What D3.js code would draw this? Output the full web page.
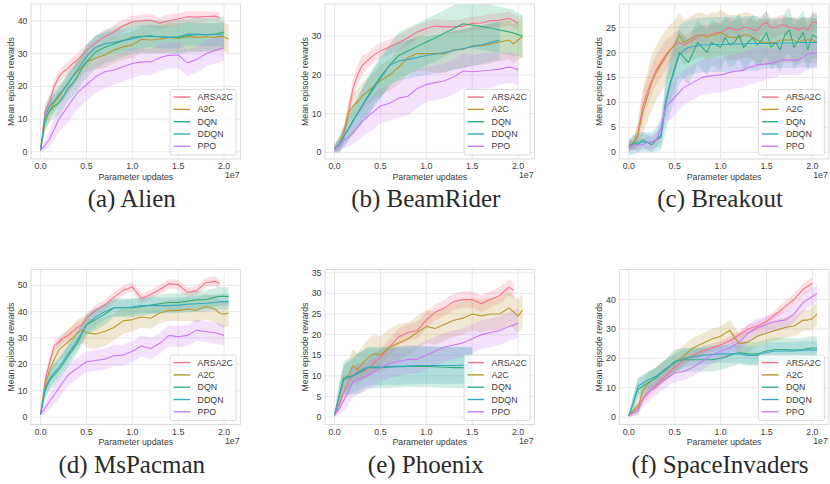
<!DOCTYPE html>
<html>
<head>
<meta charset="utf-8">
<script src="https://d3js.org/d3.v7.min.js"></script>
<style>
  body { margin: 0; background: #fff; }
  svg { display: block; font-family: "Liberation Sans", Arial, sans-serif; }
  .tick-label { font-size: 8.8px; fill: #3c3c3c; }
  .axis-label { font-size: 8.8px; fill: #3c3c3c; }
  .legend-text { font-size: 8.8px; fill: #3c3c3c; }
  .caption { font-family: "Liberation Serif", "Times New Roman", serif; font-size: 25px; fill: #2a2a2a; }
</style>
</head>
<body>
<svg id="fig" width="830" height="484"></svg>
<script>
const methods = ["ARSA2C", "A2C", "DQN", "DDQN", "PPO"];
const colors = ["#f77189", "#bb9832", "#33b07a", "#38a9c5", "#cc7af4"];
const xTicks = [0, 0.5, 1.0, 1.5, 2.0];

// x positions (in 1e7 parameter updates)
const gridX = [0, 0.05, 0.1, 0.15, 0.2, 0.25, 0.3, 0.35, 0.4, 0.45, 0.5, 0.6, 0.7, 0.8, 0.9, 1.0,
  1.1, 1.2, 1.3, 1.4, 1.5, 1.6, 1.7, 1.8, 1.9, 1.95, 2.0, 2.05];
const gridFine = [0, 0.05, 0.1, 0.15, 0.2, 0.25, 0.3, 0.35, 0.4, 0.45, 0.5, 0.55, 0.6, 0.65, 0.7, 0.75,
  0.8, 0.85, 0.9, 0.95, 1.0, 1.05, 1.1, 1.15, 1.2, 1.25, 1.3, 1.35, 1.4, 1.45, 1.5, 1.55, 1.6, 1.65,
  1.7, 1.75, 1.8, 1.85, 1.9, 1.95, 2.0, 2.05];

// (a) Alien
const alienTicks = [0, 10, 20, 30, 40];
const alienMean = [
  [0.5, 12.5, 15.5, 20, 23, 24.5, 25.5, 27, 28, 29.5, 31, 33.4, 35.2, 36.7, 38.5, 39.8, 40.1, 40.2, 39.3, 40.1, 40.6, 41.3, 41.2, 41.4, 41.5, 41.1, null, null],
  [0.5, 9.2, 12.7, 15, 16.8, 19, 21, 23, 24.5, 26, 27.5, 28.6, 29.6, 31.1, 32.1, 32.7, 34.4, 34.2, 34.4, 35, 34.7, 35.2, 35, 35.2, 35, 35.3, 35.2, 34.4],
  [0.5, 10, 12.5, 14, 15, 17, 19.5, 21, 23, 25.5, 27.5, 30.5, 32, 33, 34, 35, 35.3, 35.3, 35.2, 35.1, 35, 35.5, 35.8, 35.8, 36, 36.3, 36.6, null],
  [0.5, 11, 14, 15.5, 17.5, 19, 21, 23, 25, 27, 29, 32, 33, 33.5, 34, 34.5, 35.2, 35.5, 35.2, 35, 35.2, 36, 36, 35.8, 35.8, 35.8, 35.8, null],
  [0.5, 2, 4, 7, 10, 12, 14, 16, 18, 19.3, 20.5, 23, 24.5, 25, 26, 27, 27.5, 27.5, 28.8, 29.5, 29.6, 27.2, 28.2, 30, 31, 31.4, 31.8, null]
];
const alienBand = [
  [0.5, 2, 2, 2, 2, 2, 2, 2, 2, 2, 2, 2, 2, 2, 2, 1.8, 1.8, 2, 1.8, 2, 1.8, 1.8, 1.8, 1.5, 1.5, 1.5, null, null],
  [0.5, 3, 3, 3, 3, 3, 3, 3, 3, 3, 3, 3.5, 4, 4, 4, 4, 4, 4.2, 4.2, 4.5, 4.5, 4.5, 4.5, 4.5, 4.5, 4.5, 4.5, 4.5],
  [0.5, 3, 3.5, 3.5, 4, 4, 4, 4, 4.5, 4.5, 5, 5, 5, 5, 5, 5, 5, 5, 5, 5, 5.2, 5.2, 5.2, 5.2, 5, 5, 4.5, null],
  [0.5, 3, 3, 3, 3, 3, 3, 3, 3, 3, 3.5, 3.5, 3.5, 3.5, 3.5, 3.5, 3.5, 3.5, 3.5, 3.5, 3.5, 3.5, 3.5, 3.5, 3.5, 3.5, 3.5, null],
  [0.5, 1.5, 2.5, 3.5, 4, 4.5, 5, 5, 5, 5, 5, 5, 5, 4.5, 4.5, 4.5, 4, 4, 4, 4, 4, 4, 4, 4, 4, 4, 4, null]
];

// (b) BeamRider
const beamTicks = [0, 10, 20, 30];
const beamMean = [
  [1, 2, 4.5, 10, 16.4, 19.9, 22.5, 23.5, 24.6, 25.5, 26.2, 27.2, 28.3, 29.6, 31.1, 32, 32.6, 32.4, 32.4, 32.6, 33.3, 33.4, 34, 34.1, 34.6, 34, 33.3, null],
  [1, 2, 5, 10, 12, 13, 14.5, 15.5, 16.5, 17.5, 18.5, 20, 22, 24.5, 25.5, 25.5, 25.5, 25.5, 26.5, 26.5, 27.5, 27.5, 28, 28.5, 29, 28, 29, 30],
  [1, 2, 4, 6, 8.3, 10, 12, 14, 16, 17.8, 19.5, 22.5, 25, 26.2, 27.3, 28.5, 29.6, 30.8, 32, 33.2, 32.9, 32.5, 32.1, 31.6, 31.1, 30.8, 30.4, 30],
  [1, 2, 4, 6, 8, 10, 12, 13.8, 15.5, 17.3, 19, 22.5, 23.6, 24, 24.5, 25, 25.4, 25.8, 26.3, 26.8, 27.3, 27.8, 28.4, 29, null, null, null, null],
  [0.5, 1.8, 3, 4, 5, 6.5, 8, 9, 10, 11, 12, 12.7, 14, 14.5, 16.5, 17.5, 18, 18.5, 19.5, 21, 20.8, 21, 21.2, 21.5, 22, 21.8, 21.3, null]
];
const beamBand = [
  [0.8, 1.5, 2, 2.5, 2.5, 2.5, 2.5, 2, 2, 2, 2, 2, 2, 2, 1.8, 1.8, 1.8, 1.8, 1.8, 1.8, 1.8, 1.8, 1.8, 1.8, 1.8, 1.8, 1.8, null],
  [0.8, 1.5, 2, 3, 3, 3.5, 3.5, 3.5, 3.5, 3.5, 4, 4, 4.5, 4.5, 4.5, 4.5, 5, 5, 5, 5, 5, 5, 5, 5, 5, 5, 5, 5.5],
  [1, 2, 2.5, 3, 3.5, 4, 4.5, 5, 5, 5, 5.5, 5.5, 6, 6, 6, 6, 6, 6, 6, 6, 6, 6, 6, 6, 6, 6, 5.5, 5.5],
  [1, 2, 2.5, 3, 3.5, 4, 4.5, 4.5, 5, 5, 5, 5, 5, 5, 5, 5, 5, 5, 5, 5, 5, 5, 5, 5, null, null, null, null],
  [0.5, 1.5, 2, 2.5, 3, 3.5, 4, 4, 4.5, 4.5, 4.5, 4.5, 5, 5, 5, 4.5, 4.5, 4.5, 4.5, 4.5, 4.5, 4.5, 4.5, 4, 4, 4, 4, null]
];

// (c) Breakout (finer steps)
const breakoutTicks = [0, 5, 10, 15, 20, 25];
const breakoutMean = [
  [1.5, 1.5, 4, 9, 12, 14.5, 16.5, 18, 19.5, 20.5, 21.5, 22, 21.5, 22, 22.5, 23, 23.5, 23.5, 23.5, 24, 24, 24.5, 25, 24.5, 24.5, 25, 25, 24.5, 24.5, 25.5, 26, 25, 25, 25.5, 25.5, 25, 25, 24.5, 25, 24.5, 26, 26],
  [1.5, 1.5, 3.5, 8, 11, 14, 16, 17.5, 19, 20.5, 21.5, 23.5, 22, 22.5, 23, 23.5, 23.5, 23, 23.5, 23.5, 24, 23.5, 23, 23, 23, 23.5, 23.5, 23, 22.5, 22, 22, 22, 22, 22.5, 22.5, 22.5, 22.5, 22, 22.5, 22.5, 22.5, 22],
  [1, 2, 1.5, 2.5, 2, 1.5, 2.5, 3, 10, 14, 17, 20, 19, 18, 20, 22, 21, 20, 22, 21.5, 21, 23, 21.5, 22, 23.5, 21, 22, 23, 21.5, 22.5, 24, 21, 22, 20.5, 23.5, 24.5, 21, 22.5, 24, 20.5, 23.5, 23],
  [1, 1.5, 2, 2, 2, 2, 2.5, 3.5, 9.5, 13.5, 16.5, 19.5, 20.5, 21, 21.2, 21.4, 21.5, 21.5, 21.6, 21.6, 21.6, 21.6, 21.7, 21.7, 21.7, 21.7, 21.8, 21.8, 21.8, 21.8, 21.8, 21.8, 21.8, 21.9, 21.9, 21.9, 21.9, 22, 22, 22, 22, 22],
  [1, 1.5, 1.5, 1.5, 2, 2, 2.5, 5, 9, 10, 11, 12, 13, 13.5, 14, 14.5, 15, 15.2, 15.3, 15.4, 15.5, 15.7, 16, 16.2, 16.3, 16.5, 17, 17.2, 17.5, 17.6, 17.7, 17.8, 18, 18.5, 18.5, 18.5, 18.4, 18.5, 19, 19.7, 19.8, 19.8]
];
const breakoutBand = [
  [1, 1, 2, 3, 3, 3, 3, 3, 3, 2.5, 2.5, 2.5, 2, 2, 2, 2, 2, 2, 2, 2, 2, 2, 2, 2, 2, 2, 2, 2, 2, 2, 2, 2, 2, 2, 2, 2, 2, 2, 2, 2, 2, 2],
  [1, 1, 2.5, 4.5, 5, 5.5, 5.5, 5.5, 5.5, 5, 5, 4.5, 4.5, 4.5, 4.5, 4.5, 4.5, 4.5, 4.5, 4.5, 4.5, 4.5, 4.5, 4.5, 4.5, 4.5, 4.5, 4.5, 4.5, 4.5, 4.5, 4.5, 4.5, 4.5, 4.5, 4.5, 4.5, 4.5, 4.5, 4.5, 4.5, 4.5],
  [1, 1.5, 1.5, 1.5, 1.5, 1.5, 1.5, 2, 3, 4, 4.5, 4.5, 4.5, 4.5, 4.5, 4.5, 4.5, 4.5, 4.5, 4.5, 4.5, 4.5, 4.5, 4.5, 4.5, 4.5, 4.5, 4.5, 4.5, 4.5, 4.5, 4.5, 4.5, 4.5, 4.5, 4.5, 4.5, 4.5, 4.5, 4.5, 4.5, 4.5],
  [1.5, 2, 2, 2, 2, 2, 2.5, 3, 5.5, 6, 6, 6, 5.5, 5.5, 5.5, 5.5, 5.5, 5.5, 5.5, 5.5, 5.5, 5.5, 5.5, 5.5, 5.5, 5.5, 5.5, 5.5, 5.5, 5, 5, 5, 5, 5, 5, 5, 5, 5, 5, 5, 5, 5],
  [1, 1, 1, 1, 1.5, 1.5, 1.5, 2, 3, 3.5, 3.5, 3.5, 3.5, 3.5, 3.5, 3.5, 3.5, 3.5, 3.5, 3.5, 3.5, 3.5, 3.5, 3.5, 3.5, 3.5, 3.5, 3.5, 3.5, 3.5, 3, 3, 3, 3, 3, 3, 3, 3, 3, 3, 3, 3]
];

// (d) MsPacman
const pacmanTicks = [0, 10, 20, 30, 40, 50];
const pacmanMean = [
  [1, 14, 21, 27, 28.5, 30, 31, 32.5, 34, 35, 37.5, 40.5, 42.5, 45.5, 48.1, 49.4, 45, 46.5, 48.4, 50.6, 50.3, 47.3, 48, 51, 51.5, 50.6, null, null],
  [1, 12, 18, 22, 25.5, 27, 28.5, 30, 32, 33, 32, 31.5, 32.5, 34, 36.5, 37, 38, 37.5, 39.5, 40.5, 40.5, 41, 40.5, 42, 41, 39.5, 39, 39.5],
  [1, 10, 14, 16, 18, 20.5, 23, 25.5, 28, 31.5, 35, 37, 39, 41.5, 41.5, 41.5, 42, 42.5, 43, 43.5, 43.5, 44, 44.5, 44.5, 45.5, 45.8, 45.8, 45.8],
  [1, 11, 14.5, 17, 19, 21.5, 24, 26.5, 29, 32, 35, 38, 40, 41.5, 41.5, 41.8, 42.3, 42.3, 42.3, 42.3, 42.5, 42.8, 43, 43.2, 43.5, 43.7, 43.8, 43.8],
  [1, 3.5, 6, 8.5, 11, 13.5, 16, 17.3, 18.5, 19.8, 21, 21.5, 22, 23.3, 23.5, 25, 27, 26, 28, 31, 30.5, 31, 33, 32.5, 32, 31.5, 31, null]
];
const pacmanBand = [
  [0.5, 2, 2, 2, 2, 2, 2, 2, 2, 2, 2, 2, 2, 2, 1.8, 1.8, 1.8, 1.8, 1.8, 1.8, 1.8, 1.8, 1.8, 1.8, 1.8, 1.8, null, null],
  [0.5, 2.5, 3, 3.5, 4, 4.5, 5, 5, 5, 5, 5.5, 5.5, 5.5, 5, 5, 4.5, 4, 4, 4, 4, 4, 4.5, 4.5, 5, 5, 5, 5, 5],
  [0.5, 3, 4, 4, 4, 4, 4, 4, 4, 4, 4, 4, 4, 3.5, 3.5, 3.5, 3.5, 3.5, 3.5, 3.5, 3.5, 3.5, 3.5, 3.5, 3.5, 3.5, 3.5, 3.5],
  [0.5, 3, 3.5, 3.5, 3.5, 3.5, 3.5, 3.5, 3.5, 3.5, 3.5, 3.5, 3, 3, 3, 3, 3, 3, 3, 3, 3, 3, 3, 3, 3, 3, 3, 3],
  [0.5, 2, 3, 3.5, 4, 4, 4, 4, 4, 4, 4, 4, 4, 4, 4, 4, 4, 4, 4, 4, 4, 4, 4, 4, 4, 4, 4, null]
];

// (e) Phoenix
const phoenixTicks = [0, 5, 10, 15, 20, 25, 30, 35];
const phoenixMean = [
  [0.5, 3, 6, 8.5, 10, 11, 11, 11.5, 12.5, 13.5, 14.5, 17, 19.5, 20.5, 21, 23.5, 25.5, 26.5, 28, 28.5, 28.5, 27.5, 28.5, 29.5, 31.5, 30.8, null, null],
  [0.5, 5, 9.5, 10, 12.5, 11.5, 13, 14, 15, 15.5, 15, 17, 18, 19, 20.5, 22, 21.5, 22.5, 23.5, 24, 25, 24.5, 25, 25, 26.5, 25.5, 24.5, 26],
  [0.5, 5, 9.5, 9.8, 10, 10.5, 11, 12, 12, 12, 12, 12.1, 12.2, 12.3, 12.3, 12.3, 12.2, 12.1, 12, 12, 11.9, null, null, null, null, null, null, null],
  [0.5, 5, 9, 9.5, 10, 10.8, 11.5, 12, 12.2, 12.2, 12.2, 12.3, 12.3, 12.4, 12.5, 12.5, 12.5, 12.5, 12.5, 12.6, 12.6, null, null, null, null, null, null, null],
  [0.5, 2, 4, 6, 8.5, 9, 9.5, 10, 10.5, 11.2, 12, 13, 13.5, 14, 14, 15, 16, 17, 17.5, 18, 19, 20, 20.5, 21, 22, 22.3, 22.8, null]
];
const phoenixBand = [
  [0.5, 1.5, 2, 2, 2, 2, 2, 2, 2, 2, 2, 2, 2, 2, 2, 2, 2, 2, 2, 2, 2, 2, 2, 2, 2, 2, null, null],
  [0.5, 2, 3, 3.5, 4, 4, 4, 4.5, 4.5, 4.5, 4.5, 4.5, 4.5, 4, 4, 4, 4, 4, 4, 4, 4, 4, 4, 4, 4, 4, 4, 4],
  [0.5, 3, 4, 4.5, 4.5, 5, 5, 5, 5, 5, 5, 5, 5, 5, 5, 5, 5, 5, 5, 5, 5, null, null, null, null, null, null, null],
  [0.5, 3, 3.5, 4, 4, 4.5, 4.5, 4.5, 4.5, 4.5, 4.5, 4.5, 4.5, 4.5, 4.5, 4.5, 4.5, 4.5, 4.5, 4.5, 4.5, null, null, null, null, null, null, null],
  [0.5, 1.5, 2.5, 3, 3.5, 3.5, 3.5, 3.5, 3.5, 3.5, 3.5, 3.5, 3.5, 3.5, 3.5, 3.5, 3.5, 3.5, 3.5, 3.5, 3.5, 3.5, 3.5, 3.5, 3.5, 3.5, 3.5, null]
];

// (f) SpaceInvaders
const invadersTicks = [0, 10, 20, 30, 40];
const invadersMean = [
  [0.5, 2, 4, 6, 8, 9.5, 11, 12.5, 14, 15.5, 17, 19.5, 21, 22.5, 23.5, 24.5, 26, 28, 30, 31, 32.5, 35, 37.5, 40, 43.5, 44.5, 45.5, null],
  [0.5, 2, 3, 9, 11, 12.5, 13.5, 15, 16, 17.3, 18.5, 21, 23.5, 25, 26.5, 27.5, 29.5, 25, 25.5, 27.5, 28.5, 29.5, 30.5, 31, 33, 33, 33.5, 35],
  [0.5, 5, 9.5, 10.5, 11.5, 12.5, 13.5, 14.8, 16, 17.5, 19, 19.5, 19.5, 19.5, 19.5, 20, 21, 22, 21.5, 21.5, 22.5, 23, 23, 22.8, 23, 23.3, 23.5, 23.5],
  [0.5, 5, 10.5, 11.5, 12.5, 13.2, 14, 15.2, 16.5, 17.5, 18.5, 20, 20.5, 21, 21.3, 21.5, 21.5, 21.5, 21, 21, 22, 22.5, 22.5, 22.5, 22.8, 22.8, 22.8, 22.8],
  [0.5, 1.5, 2, 6, 8, 9.3, 10.5, 11.8, 13, 14, 15, 15.5, 17, 19, 21, 22.5, 23.5, 25.5, 28.5, 30.5, 31.5, 32.5, 33, 35, 39, 40, 41, 42]
];
const invadersBand = [
  [0.5, 1, 1.5, 1.5, 1.5, 1.5, 1.5, 1.5, 1.5, 1.5, 1.5, 1.5, 1.5, 1.5, 1.5, 1.5, 1.5, 1.5, 1.5, 1.5, 1.5, 1.5, 1.8, 2, 2, 2, 2, null],
  [0.5, 1.5, 2, 3, 3.5, 3.5, 3.5, 3.5, 3.5, 3.5, 3.5, 3.5, 3.5, 3.5, 3.5, 3.5, 3.5, 3.5, 3.5, 3.5, 3.5, 3.5, 3.5, 3.5, 3.5, 3.5, 4, 4],
  [0.5, 3, 3.5, 3.5, 3.5, 3.5, 3.5, 3.5, 3.5, 4, 4, 4, 4, 4, 4, 4, 4, 4, 4, 4, 4, 4, 4, 4, 4, 4, 4, 4],
  [0.5, 2.5, 3, 3, 3, 3, 3, 3, 3, 3, 3, 3, 3, 3, 3, 3, 3, 3, 3, 3, 3, 3, 3, 3, 3, 3, 3, 3],
  [0.5, 1, 1.5, 2.5, 3, 3, 3, 3, 3, 3, 3, 3, 3, 3, 3, 3, 3, 3, 3, 3, 3, 3, 3, 3, 3, 3, 3, 3]
];

const panels = [
  { caption: "(a) Alien", xs: gridX, mean: alienMean, band: alienBand, ticks: alienTicks, yDom: [-2.2, 45.2] },
  { caption: "(b) BeamRider", xs: gridX, mean: beamMean, band: beamBand, ticks: beamTicks, yDom: [-1.7, 38.3] },
  { caption: "(c) Breakout", xs: gridFine, mean: breakoutMean, band: breakoutBand, ticks: breakoutTicks, yDom: [-1.35, 29.7] },
  { caption: "(d) MsPacman", xs: gridX, mean: pacmanMean, band: pacmanBand, ticks: pacmanTicks, yDom: [-2.8, 56] },
  { caption: "(e) Phoenix", xs: gridX, mean: phoenixMean, band: phoenixBand, ticks: phoenixTicks, yDom: [-1.8, 35.8] },
  { caption: "(f) SpaceInvaders", xs: gridX, mean: invadersMean, band: invadersBand, ticks: invadersTicks, yDom: [-2.5, 50.2] }
];

const colLeft = [31, 325, 619.3];
const rowTop = [4, 269.5];
const pw = 209.6, ph = 155;

const svg = d3.select("#fig");
svg.append("rect").attr("width", 830).attr("height", 484).attr("fill", "#fff");

panels.forEach((p, k) => {
  const left = colLeft[k % 3];
  const top = rowTop[Math.floor(k / 3)];
  const g = svg.append("g").attr("transform", `translate(${left},${top})`);

  const x = d3.scaleLinear().domain([-0.104, 2.18]).range([0, pw]);
  const y = d3.scaleLinear().domain(p.yDom).range([ph, 0]);

  // grid
  g.selectAll(".gx").data(xTicks).join("line")
    .attr("x1", d => x(d)).attr("x2", d => x(d))
    .attr("y1", 0).attr("y2", ph)
    .attr("stroke", "#e8e8e8").attr("stroke-width", 1);
  g.selectAll(".gy").data(p.ticks).join("line")
    .attr("x1", 0).attr("x2", pw)
    .attr("y1", d => y(d)).attr("y2", d => y(d))
    .attr("stroke", "#e8e8e8").attr("stroke-width", 1);

  const rows = p.mean.map((m, s) => p.xs.map((xv, i) => ({
    x: xv, y: m[i], b: p.band[s][i]
  })));

  const area = d3.area()
    .defined(d => d.y != null)
    .x(d => x(d.x))
    .y0(d => y(d.y - d.b))
    .y1(d => y(d.y + d.b));
  const line = d3.line()
    .defined(d => d.y != null)
    .x(d => x(d.x))
    .y(d => y(d.y));

  const clip = "clip" + k;
  g.append("clipPath").attr("id", clip)
    .append("rect").attr("width", pw).attr("height", ph);
  const plot = g.append("g").attr("clip-path", `url(#${clip})`);

  rows.forEach((r, s) => {
    plot.append("path").attr("d", area(r))
      .attr("fill", colors[s]).attr("fill-opacity", 0.22);
  });
  rows.forEach((r, s) => {
    plot.append("path").attr("d", line(r))
      .attr("fill", "none").attr("stroke", colors[s])
      .attr("stroke-width", 1.1).attr("stroke-linejoin", "round");
  });

  // frame
  g.append("rect").attr("width", pw).attr("height", ph)
    .attr("fill", "none").attr("stroke", "#dcdcdc").attr("stroke-width", 1);

  // tick labels
  g.selectAll(".yt").data(p.ticks).join("text")
    .attr("class", "tick-label")
    .attr("x", -3.5).attr("y", d => y(d)).attr("dy", "0.35em")
    .attr("text-anchor", "end")
    .text(d => d);
  g.selectAll(".xt").data(xTicks).join("text")
    .attr("class", "tick-label")
    .attr("x", d => x(d)).attr("y", ph + 10)
    .attr("text-anchor", "middle")
    .text(d3.format(".1f"));

  g.append("text").attr("class", "axis-label")
    .attr("x", pw / 2).attr("y", ph + 20.5)
    .attr("text-anchor", "middle")
    .text("Parameter updates");
  g.append("text").attr("class", "axis-label")
    .attr("x", pw - 1).attr("y", ph + 19)
    .attr("text-anchor", "end")
    .text("1e7");
  g.append("text").attr("class", "axis-label")
    .attr("transform", `translate(-20,${ph / 2}) rotate(-90)`)
    .attr("dy", "0.35em")
    .attr("text-anchor", "middle")
    .text("Mean episode rewards");

  // legend
  const lw = 66, lh = 65.5;
  const lg = g.append("g").attr("transform", `translate(${pw - lw - 4.5},${ph - lh - 4})`);
  lg.append("rect").attr("width", lw).attr("height", lh).attr("rx", 2)
    .attr("fill", "#fff").attr("fill-opacity", 0.8)
    .attr("stroke", "#d0d0d0").attr("stroke-width", 0.8);
  methods.forEach((m, s) => {
    const yy = 7.6 + s * 12.3;
    lg.append("line").attr("x1", 3.5).attr("x2", 20).attr("y1", yy).attr("y2", yy)
      .attr("stroke", colors[s]).attr("stroke-width", 1.4);
    lg.append("text").attr("class", "legend-text")
      .attr("x", 27.5).attr("y", yy).attr("dy", "0.35em")
      .text(m);
  });

  // caption
  svg.append("text").attr("class", "caption")
    .attr("x", left + pw / 2 - 4).attr("y", top + 203)
    .attr("text-anchor", "middle")
    .text(p.caption);
});
</script>
</body>
</html>
